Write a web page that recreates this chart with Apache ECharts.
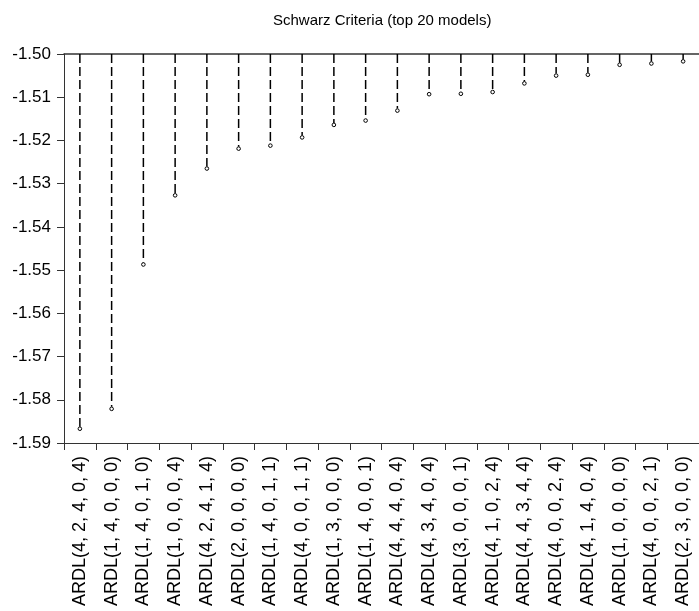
<!DOCTYPE html>
<html>
<head>
<meta charset="utf-8">
<script src="https://cdn.jsdelivr.net/npm/echarts@6/dist/echarts.min.js"></script>
<style>
  html, body { margin: 0; padding: 0; background: #fff; }
  #chart { width: 699px; height: 611px; }
</style>
</head>
<body>
<div id="chart"></div>
<script>
const models = [
  'ARDL(4, 2, 4, 0, 4)', 'ARDL(1, 4, 0, 0, 0)', 'ARDL(1, 4, 0, 1, 0)', 'ARDL(1, 0, 0, 0, 4)',
  'ARDL(4, 2, 4, 1, 4)', 'ARDL(2, 0, 0, 0, 0)', 'ARDL(1, 4, 0, 1, 1)', 'ARDL(4, 0, 0, 1, 1)',
  'ARDL(1, 3, 0, 0, 0)', 'ARDL(1, 4, 0, 0, 1)', 'ARDL(4, 4, 4, 0, 4)', 'ARDL(4, 3, 4, 0, 4)',
  'ARDL(3, 0, 0, 0, 1)', 'ARDL(4, 1, 0, 2, 4)', 'ARDL(4, 4, 3, 4, 4)', 'ARDL(4, 0, 0, 2, 4)',
  'ARDL(4, 1, 4, 0, 4)', 'ARDL(1, 0, 0, 0, 0)', 'ARDL(4, 0, 0, 2, 1)', 'ARDL(2, 3, 0, 0, 0)'
]
const schwarz = [
  -1.5867, -1.5821, -1.5487, -1.5327, -1.5265, -1.5219, -1.5212, -1.5193,
  -1.5164, -1.5154, -1.5131, -1.5093, -1.5092, -1.5088, -1.5068, -1.5050,
  -1.5048, -1.5025, -1.5022, -1.5017
]
// axis range and stem origin
const yMin = -1.59
const yMax = -1.50
const yStep = 0.01
const baseline = -1.50

const chart = echarts.init(document.getElementById('chart'))

const option = {
  animation: false,
  title: {
    text: 'Schwarz Criteria (top 20 models)',
    left: 268,
    top: 8,
    textStyle: { fontFamily: 'Liberation Sans', fontSize: 15, fontWeight: 'normal', color: '#000' }
  },
  grid: { left: 64, top: 54, bottom: 168, right: -3, containLabel: false },
  xAxis: [
    {
      type: 'category',
      data: models,
      boundaryGap: true,
      axisLine: { lineStyle: { color: '#333', width: 1 } },
      axisTick: { show: true, length: 7, lineStyle: { color: '#333' } },
      axisLabel: {
        rotate: 90,
        interval: 0,
        margin: 13,
        fontFamily: 'Liberation Sans',
        fontSize: 18,
        color: '#000'
      },
      splitLine: { show: false }
    },
    {
      type: 'category',
      data: models,
      position: 'top',
      axisLine: { lineStyle: { color: '#333', width: 1.5 } },
      axisTick: { show: false },
      axisLabel: { show: false }
    }
  ],
  yAxis: {
    type: 'value',
    min: yMin,
    max: yMax,
    interval: yStep,
    axisLine: { show: true, lineStyle: { color: '#333', width: 1 } },
    axisTick: { show: true, length: 7, lineStyle: { color: '#333' } },
    axisLabel: {
      margin: 13,
      fontFamily: 'Liberation Sans',
      fontSize: 17,
      color: '#000',
      formatter: v => v.toFixed(2)
    },
    splitLine: { show: false }
  },
  series: [
    {
      type: 'custom',
      xAxisIndex: 0,
      yAxisIndex: 0,
      data: schwarz.map((v, i) => [i, v]),
      encode: { x: 0, y: 1 },
      renderItem: (params, api) => {
        const top = api.coord([api.value(0), baseline])
        const end = api.coord([api.value(0), api.value(1)])
        return {
          type: 'group',
          children: [
            {
              type: 'line',
              shape: { x1: top[0], y1: top[1], x2: end[0], y2: end[1] - 2 },
              style: { stroke: '#000', lineWidth: 1.5, lineDash: [9, 4] }
            },
            {
              type: 'circle',
              shape: { cx: end[0], cy: end[1], r: 1.8 },
              style: { fill: '#fff', stroke: '#000', lineWidth: 1 }
            }
          ]
        }
      }
    }
  ]
}

chart.setOption(option)
window.addEventListener('resize', () => chart.resize())
</script>
</body>
</html>
